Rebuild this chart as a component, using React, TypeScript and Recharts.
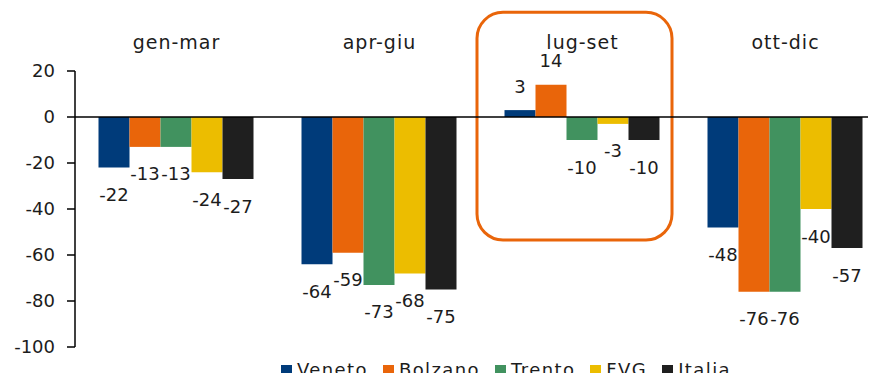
import { BarChart, Bar, XAxis, YAxis, ReferenceLine, ReferenceArea, LabelList } from "recharts"

const periods = ["gen-mar", "apr-giu", "lug-set", "ott-dic"]
const veneto = [-22, -64, 3, -48]
const bolzano = [-13, -59, 14, -76]
const trento = [-13, -73, -10, -76]
const fvg = [-24, -68, -3, -40]
const italia = [-27, -75, -10, -57]
const yTicks = [20, 0, -20, -40, -60, -80, -100]

const series = [
  { key: "veneto", name: "Veneto", color: "#003B7A", values: veneto },
  { key: "bolzano", name: "Bolzano", color: "#E9650A", values: bolzano },
  { key: "trento", name: "Trento", color: "#41925F", values: trento },
  { key: "fvg", name: "FVG", color: "#ECBD00", values: fvg },
  { key: "italia", name: "Italia", color: "#1F1F1F", values: italia },
]

const data = periods.map((p, i) => {
  const row: Record<string, string | number> = { period: p }
  series.forEach(s => { row[s.key] = s.values[i] })
  return row
})

const FONT = "'DejaVu Sans', sans-serif"
const TEXT = "#1c1c1c"

// value label sits a fixed distance past the end of each bar
const renderValue = (props: any) => {
  const { x, y, width, height, value } = props
  const top = Math.min(y, y + height)
  const bottom = Math.max(y, y + height)
  const cy = value >= 0 ? top - 24 : bottom + 27
  return (
    <text x={x + width / 2} y={cy} textAnchor="middle" dominantBaseline="central"
      fontFamily={FONT} fontSize={18} fill={TEXT}>
      {value}
    </text>
  )
}

const PeriodTick = (props: any) => {
  const { x, payload } = props
  return (
    <text x={x} y={42} textAnchor="middle" dominantBaseline="central"
      fontFamily={FONT} fontSize={19} letterSpacing={1} fill={TEXT}>
      {payload.value}
    </text>
  )
}

const Highlight = (props: any) => {
  const { x, y, width, height } = props
  return (
    <rect x={x - 4} y={y} width={width - 8} height={height} rx={26} ry={26}
      fill="none" stroke="#E9650A" strokeWidth={3} />
  )
}

export default function App() {
  return (
    <div style={{ margin: -8, width: 876, height: 381, overflow: "hidden", position: "relative", background: "#fff" }}>
      <BarChart width={890} height={360} data={data}
        margin={{ top: 0, right: 3, bottom: 13, left: 0 }}
        barCategoryGap={23.5} barGap={0}>
        <XAxis dataKey="period" orientation="top" height={71}
          axisLine={false} tickLine={false} tick={<PeriodTick />} interval={0} />
        <YAxis domain={[-100, 20]} ticks={yTicks} width={75} interval={0}
          axisLine={{ stroke: "#000", strokeWidth: 1.5 }}
          tickLine={{ stroke: "#000", strokeWidth: 1.5 }} tickSize={8} tickMargin={12}
          tick={{ fontFamily: FONT, fontSize: 18, fill: TEXT }} />
        <ReferenceArea x1="lug-set" x2="lug-set" y1={-53.5} y2={45.5}
          ifOverflow="visible" shape={<Highlight />} />
        {series.map(s => (
          <Bar key={s.key} dataKey={s.key} name={s.name} fill={s.color} isAnimationActive={false}>
            <LabelList dataKey={s.key} content={renderValue} />
          </Bar>
        ))}
        <ReferenceLine y={0} stroke="#000" strokeWidth={1.5} />
      </BarChart>
      <div style={{ position: "absolute", top: 361, left: 281, display: "flex", alignItems: "center",
        fontFamily: FONT, fontSize: 18, lineHeight: "18px", letterSpacing: 1.4, color: TEXT, whiteSpace: "nowrap" }}>
        {series.map(s => (
          <span key={s.key} style={{ display: "flex", alignItems: "center", marginRight: 15 }}>
            <span style={{ width: 11, height: 11, background: s.color, marginRight: 5, display: "inline-block" }} />
            {s.name}
          </span>
        ))}
      </div>
    </div>
  )
}
